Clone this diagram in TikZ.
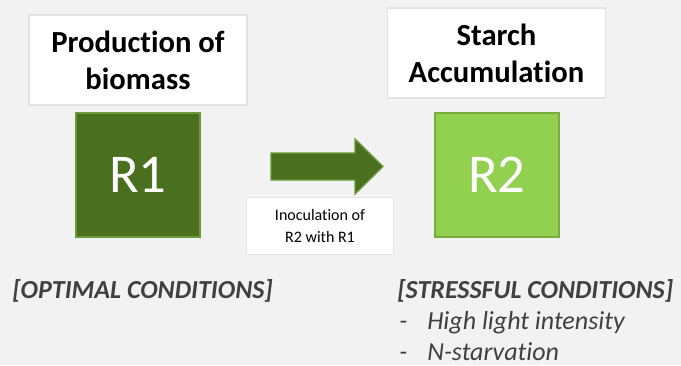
\documentclass[tikz,border=0pt]{standalone}
\usepackage{fontspec}
\setmainfont{Carlito}[Ligatures=NoCommon]
\usepackage{tikz}
\usetikzlibrary{positioning}

\definecolor{bggray}{HTML}{F2F2F2}
\definecolor{darkgreen}{HTML}{4A6F1F}
\definecolor{darkedge}{HTML}{6A9A3A}
\definecolor{lightgreen}{HTML}{92D050}
\definecolor{lightedge}{HTML}{78AC3C}
\definecolor{boxedge}{HTML}{E2E2E2}
\definecolor{condgray}{HTML}{404040}

\tikzset{
  titlebox/.style={draw=boxedge, fill=white, line width=1pt, align=center, inner sep=0pt,
    minimum width=163.5pt, minimum height=67.5pt,
    font=\fontsize{23}{27.75}\selectfont\bfseries},
  reactor/.style={line width=1.5pt, minimum size=93.5pt, inner sep=0pt, text=white,
    font=\fontsize{41}{48}\selectfont},
  cond/.style={anchor=base west, inner sep=0pt, text=condgray,
    font=\fontsize{19.5}{24}\selectfont\itshape},
  condhead/.style={cond, font=\fontsize{19.5}{24}\selectfont\bfseries\itshape}
}

\begin{document}
\begin{tikzpicture}[x=0.75pt, y=-0.75pt]
\fill[bggray] (0,0) rectangle (681,365);
\useasboundingbox (0,0) rectangle (681,365);

\coordinate (a1) at (271,153);
\coordinate (a2) at (355,153);
\coordinate (a3) at (355,139);
\coordinate (tip) at (383,166.5);
\coordinate (a4) at (355,194);
\coordinate (a5) at (355,180);
\coordinate (a6) at (271,180);

\node[titlebox] (prod) at (138,60) {Production of\\biomass};
\node[titlebox] (starch) at (496.5,53) {Starch\\Accumulation};

\node[reactor, fill=darkgreen, draw=darkedge] (r1) at (138,175) {R1};
\node[reactor, fill=lightgreen, draw=lightedge] (r2) at (497,175) {R2};

\draw[fill=darkgreen, draw=darkedge, line width=1pt] (a1)
 -- (a2) -- (a3) -- (tip) -- (a4) -- (a5) -- (a6) -- cycle;

\node[draw=boxedge, fill=white, line width=1pt, align=center, inner sep=0pt,
  minimum width=110.5pt, minimum height=43pt,
  font=\fontsize{12}{16.5}\selectfont] (inoc) at (320,226) {Inoculation of\\R2 with R1};

\node[condhead] (optimal) at (12,298) {[OPTIMAL CONDITIONS]};
\node[condhead] (stress) at (397,298) {[STRESSFUL CONDITIONS]};
\node[cond] (dash1) at (399,329) {-};
\node[cond] (light) at (427,329) {High light intensity};
\node[cond] (dash2) at (399,360) {-};
\node[cond] (nstarv) at (427,360) {N-starvation};
\end{tikzpicture}
\end{document}
